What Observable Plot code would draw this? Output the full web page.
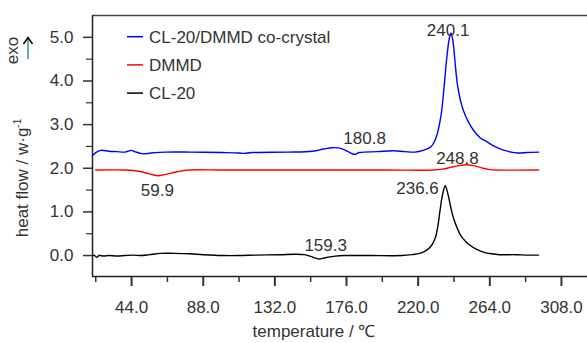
<!DOCTYPE html>
<html><head><meta charset="utf-8">
<script src="https://cdn.jsdelivr.net/npm/d3@7"></script>
<script src="https://cdn.jsdelivr.net/npm/@observablehq/plot@0.6"></script>
<style>body{margin:0;background:#fff}</style>
</head><body><div id="chart"></div>
<script>
// ---- data ----
const seriesNames = ["CL-20/DMMD co-crystal", "DMMD", "CL-20"];
const seriesColors = ["#0000ff", "#ff0000", "#000000"];

const coT = [20, 22, 25, 30, 35, 40, 44, 46, 51, 56, 65, 80, 100, 110, 113, 118, 140, 155, 162, 167, 172, 177, 180.8, 184, 195, 205, 212, 218, 223, 228, 231, 234, 236, 237.5, 239, 240.1, 241.2, 242.5, 244, 246, 248, 251, 254, 258, 262.5, 267, 272, 277, 281, 287, 294];
const coV = [2.29, 2.36, 2.41, 2.39, 2.38, 2.37, 2.41, 2.38, 2.33, 2.35, 2.37, 2.37, 2.36, 2.35, 2.34, 2.36, 2.37, 2.39, 2.44, 2.47, 2.46, 2.38, 2.32, 2.36, 2.38, 2.40, 2.38, 2.37, 2.41, 2.50, 2.70, 3.20, 3.90, 4.50, 4.95, 5.10, 4.95, 4.50, 3.95, 3.55, 3.30, 3.05, 2.87, 2.70, 2.60, 2.50, 2.42, 2.37, 2.35, 2.36, 2.37];

const dmT = [22, 40, 45, 50, 55, 59.9, 65, 72, 79, 100, 150, 200, 229, 235, 240, 245, 249.6, 254, 259, 264, 267, 294];
const dmV = [1.96, 1.96, 1.95, 1.92, 1.87, 1.83, 1.86, 1.92, 1.96, 1.96, 1.96, 1.96, 1.96, 1.98, 2.02, 2.06, 2.08, 2.06, 2.01, 1.97, 1.96, 1.96];

const clT = [20, 21, 22.5, 24, 27, 30, 35, 40, 45, 50, 55, 62, 70, 80, 88, 100, 110, 120, 135, 145, 150, 154, 157, 159.3, 163, 168, 175, 190, 210, 216, 221, 225, 228, 230.5, 232, 233.5, 235, 236.6, 238, 239.5, 241, 243, 246, 249, 252, 256, 260, 265, 270, 280, 287, 294];
const clV = [0.00, 0.01, -0.04, 0.00, -0.01, 0.00, -0.01, 0.00, 0.01, 0.00, 0.02, 0.05, 0.05, 0.04, 0.02, 0.00, 0.00, 0.01, 0.02, 0.03, 0.02, -0.02, -0.06, -0.08, -0.05, -0.02, 0.00, 0.00, 0.00, 0.02, 0.05, 0.12, 0.22, 0.40, 0.65, 1.05, 1.40, 1.60, 1.45, 1.20, 0.95, 0.72, 0.47, 0.33, 0.23, 0.14, 0.08, 0.04, 0.02, 0.02, 0.01, 0.01];

const peakLabels = ["240.1", "180.8", "248.8", "236.6", "159.3", "59.9"];
const peakLabelT = [238.4, 187.1, 244.1, 219.6, 163.2, 59.8];
const peakLabelV = [5.04, 2.565, 2.107, 1.42, 0.115, 1.374];

const xTicks = [44, 88, 132, 176, 220, 264, 308];
const xMinorTicks = [22, 66, 110, 154, 198, 242, 286];
const yTicks = [0, 1, 2, 3, 4, 5];
const yMinorTicks = [0.5, 1.5, 2.5, 3.5, 4.5];
const xDomain = [20, 324];
const yDomain = [-0.48, 5.5];

// ---- build tables ----
const rows = [];
[[coT, coV], [dmT, dmV], [clT, clV]].forEach(([ts, vs], i) => {
  ts.forEach((t, j) => rows.push({series: seriesNames[i], t, v: vs[j]}));
});
const labels = peakLabels.map((s, i) => ({s, t: peakLabelT[i], v: peakLabelV[i]}));

const FONT = "Liberation Sans, Arial, sans-serif";
const TXT = "#333";

const plot = Plot.plot({
  width: 587, height: 343,
  marginLeft: 92, marginRight: 0, marginTop: 15, marginBottom: 67,
  x: {domain: xDomain},
  y: {domain: yDomain},
  color: {domain: seriesNames, range: seriesColors},
  style: {fontSize: "17px", fontFamily: FONT, color: TXT, background: "#fff", overflow: "visible"},
  marks: [
    Plot.axisX({ticks: xTicks, tickSize: 10, tickPadding: 14, tickFormat: d3.format(".1f"), label: null, strokeWidth: 2}),
    Plot.axisX({ticks: xMinorTicks, tickSize: 6, tickFormat: () => "", label: null, strokeWidth: 1.5}),
    Plot.axisY({ticks: yTicks, tickSize: 9, tickPadding: 10, tickFormat: d3.format(".1f"), label: null, strokeWidth: 1.5}),
    Plot.axisY({ticks: yMinorTicks, tickSize: 6, tickFormat: () => "", label: null, strokeWidth: 1.2}),
    Plot.ruleY([yDomain[1]], {stroke: "#444", strokeWidth: 1.5}),
    Plot.ruleY([yDomain[0]], {stroke: "#222", strokeWidth: 1.5}),
    Plot.ruleX([xDomain[0]], {stroke: "#222", strokeWidth: 1.5}),
    Plot.line(rows, {x: "t", y: "v", z: "series", stroke: "series", strokeWidth: 1.4, curve: "catmull-rom"}),
    Plot.text(labels, {x: "t", y: "v", text: "s", lineAnchor: "bottom", textAnchor: "middle", fill: TXT, fontSize: 17})
  ]
});

const svg = d3.select(plot);
// axis titles
svg.append("text").attr("x", 314).attr("y", 337).attr("text-anchor", "middle")
  .attr("fill", TXT).attr("font-size", 17).attr("font-family", FONT).text("temperature / ℃");
const yt = svg.append("text").attr("transform", "translate(28,178) rotate(-90)").attr("text-anchor", "middle")
  .attr("fill", TXT).attr("font-size", 17).attr("font-family", FONT);
yt.append("tspan").text("heat flow / w·g");
yt.append("tspan").attr("font-size", 10).attr("dy", -7).text("-1");
svg.append("text").attr("transform", "translate(18,50.5) rotate(-90)").attr("text-anchor", "middle")
  .attr("fill", TXT).attr("font-size", 17).attr("font-family", FONT).text("exo");
svg.append("line").attr("x1", 28).attr("x2", 28).attr("y1", 59).attr("y2", 39).attr("stroke", "#2a9d7f").attr("stroke-width", 1.5);
svg.append("path").attr("d", "M23.5,44 L28,37.5 L32.5,44").attr("fill", "none").attr("stroke", "#000").attr("stroke-width", 1.5);

// legend
const leg = svg.append("g").attr("text-anchor", "start");
seriesNames.forEach((name, i) => {
  const y = 36.7 + i * 28.2;
  leg.append("line").attr("x1", 127).attr("x2", 143).attr("y1", y).attr("y2", y)
    .attr("stroke", seriesColors[i]).attr("stroke-width", 1.5);
  leg.append("text").attr("x", 149).attr("y", y).attr("dy", "0.35em").attr("fill", TXT)
    .attr("text-anchor", "start").attr("font-size", 17).attr("font-family", FONT).text(name);
});

document.getElementById("chart").appendChild(plot);
</script>
</body></html>
